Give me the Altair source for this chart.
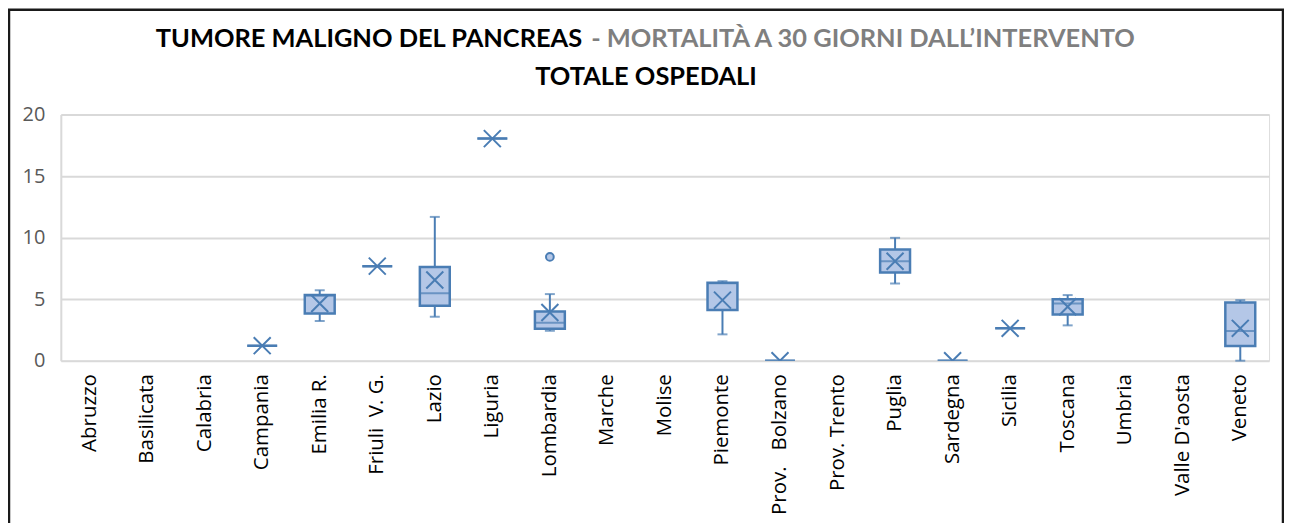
import altair as alt
import pandas as pd

NB = "\u00a0"
regions = ["Abruzzo", "Basilicata", "Calabria", "Campania", "Emilia R.", "Friuli" + NB + " V. G.",
           "Lazio", "Liguria", "Lombardia", "Marche", "Molise", "Piemonte",
           "Prov." + NB + NB + " Bolzano", "Prov. Trento", "Puglia", "Sardegna", "Sicilia",
           "Toscana", "Umbria", "Valle D'aosta", "Veneto"]
N = None
whisker_low = [N, N, N, N, 3.22, N, 3.57, N, 2.43, N, N, 2.14, N, N, 6.27, N, N, 2.87, N, N, 0.0]
q1 =          [N, N, N, 1.22, 3.84, 7.68, 4.46, 18.04, 2.60, N, N, 4.11, 0.0, N, 7.17, 0.0, 2.63, 3.76, N, N, 1.19]
median =      [N, N, N, 1.22, 5.30, 7.68, 5.47, 18.04, 3.08, N, N, 6.30, 0.0, N, 8.08, 0.0, 2.63, 4.65, N, N, 2.41]
q3 =          [N, N, N, 1.22, 5.33, 7.68, 7.62, 18.04, 4.00, N, N, 6.33, 0.0, N, 9.03, 0.0, 2.63, 5.00, N, N, 4.73]
whisker_high = [N, N, N, N, 5.73, N, 11.68, N, 5.41, N, N, 6.46, N, N, 9.98, N, N, 5.33, N, N, 4.92]
mean =        [N, N, N, 1.22, 4.65, 7.68, 6.55, 18.04, 3.92, N, N, 4.92, 0.0, N, 8.08, 0.0, 2.63, 4.38, N, N, 2.63]
outlier_region = ["Lombardia"]
outlier_value = [8.43]

title_black = "TUMORE MALIGNO DEL PANCREAS"
title_gray = "- MORTALITÀ A 30 GIORNI DALL\u2019INTERVENTO"
title_line2 = "TOTALE OSPEDALI"
y_ticks = [0, 5, 10, 15, 20]

df = pd.DataFrame({"region": regions, "lo": whisker_low, "q1": q1, "med": median,
                   "q3": q3, "hi": whisker_high, "mean": mean})
out_df = pd.DataFrame({"region": outlier_region, "value": outlier_value})

W, H = 1212, 247
STROKE = "#4a7db4"
FILL = "#b4c7e7"
TFONT = "Lato"
LFONT = "Open Sans"
TSIZE = 25.5

xenc = alt.X("region:N", sort=regions, scale=alt.Scale(domain=regions, paddingInner=0, paddingOuter=0),
             axis=alt.Axis(title=None, labelAngle=-90, labelFont=LFONT, labelFontSize=20.5,
                           labelColor="#000000", domain=False, ticks=False, labelPadding=13,
                           grid=False))
yscale = alt.Scale(domain=[0, 20], nice=False, zero=True)
yaxis = alt.Axis(title=None, values=y_ticks, labelFont=LFONT, labelFontSize=20,
                 labelColor="#595959", ticks=False, domain=True, domainColor="#d9d9d9",
                 domainWidth=2, gridColor="#d9d9d9", gridWidth=2, labelPadding=16)

base = alt.Chart(df)

whisk = base.mark_rule(color=STROKE, strokeWidth=2).encode(
    x=xenc, y=alt.Y("lo:Q", scale=yscale, axis=yaxis), y2="hi:Q")
cap_lo = base.mark_tick(color=STROKE, thickness=2, size=10, orient="horizontal").encode(
    x=xenc, y=alt.Y("lo:Q", scale=yscale))
cap_hi = base.mark_tick(color=STROKE, thickness=2, size=10, orient="horizontal").encode(
    x=xenc, y=alt.Y("hi:Q", scale=yscale))
box = base.mark_bar(size=30, fill=FILL, stroke=STROKE, strokeWidth=2.5, clip=True).encode(
    x=xenc, y=alt.Y("q1:Q", scale=yscale), y2="q3:Q")
med = base.mark_tick(color=STROKE, thickness=2, size=30, orient="horizontal", clip=True).encode(
    x=xenc, y=alt.Y("med:Q", scale=yscale))
xshape = "M-1,-1L1,1M1,-1L-1,1"
mn = base.mark_point(shape=xshape, size=290, strokeWidth=2, color=STROKE, filled=False,
                     opacity=1, clip=True).encode(x=xenc, y=alt.Y("mean:Q", scale=yscale))
outl = alt.Chart(out_df).mark_point(shape="circle", size=60, strokeWidth=2, color=STROKE,
                                    fill=FILL, filled=False, opacity=1).encode(
    x=alt.X("region:N", sort=regions, scale=alt.Scale(domain=regions)),
    y=alt.Y("value:Q", scale=yscale))

split = 523
t1 = alt.Chart(pd.DataFrame({"t": [title_black]})).mark_text(
    font=TFONT, fontWeight="bold", fontSize=TSIZE, color="#000000", align="right", baseline="middle"
).encode(text="t:N", x=alt.value(split), y=alt.value(-76))
t2 = alt.Chart(pd.DataFrame({"t": [title_gray]})).mark_text(
    font=TFONT, fontWeight="bold", fontSize=TSIZE, color="#7f7f7f", align="left", baseline="middle"
).encode(text="t:N", x=alt.value(split + 9), y=alt.value(-76))
t3 = alt.Chart(pd.DataFrame({"t": [title_line2]})).mark_text(
    font=TFONT, fontWeight="bold", fontSize=TSIZE, color="#000000", align="center", baseline="middle"
).encode(text="t:N", x=alt.value(587), y=alt.value(-38))

frame = alt.Chart(pd.DataFrame({"k": [1]})).mark_rect(
    fill=None, stroke="#1a1a1a", strokeWidth=2.5, clip=False
).encode(x=alt.value(-52), x2=alt.value(W + 14), y=alt.value(-105), y2=alt.value(H + 200))

chart = alt.layer(whisk, cap_lo, cap_hi, box, med, mn, outl, t1, t2, t3, frame).properties(
    width=W, height=H,
    autosize=alt.AutoSizeParams(type="none"),
    padding={"left": 53, "top": 106, "right": 15, "bottom": 162},
).configure_view(stroke=None).configure(background="white")

chart.save("out.html", embed_options={"renderer": "svg", "actions": False})
